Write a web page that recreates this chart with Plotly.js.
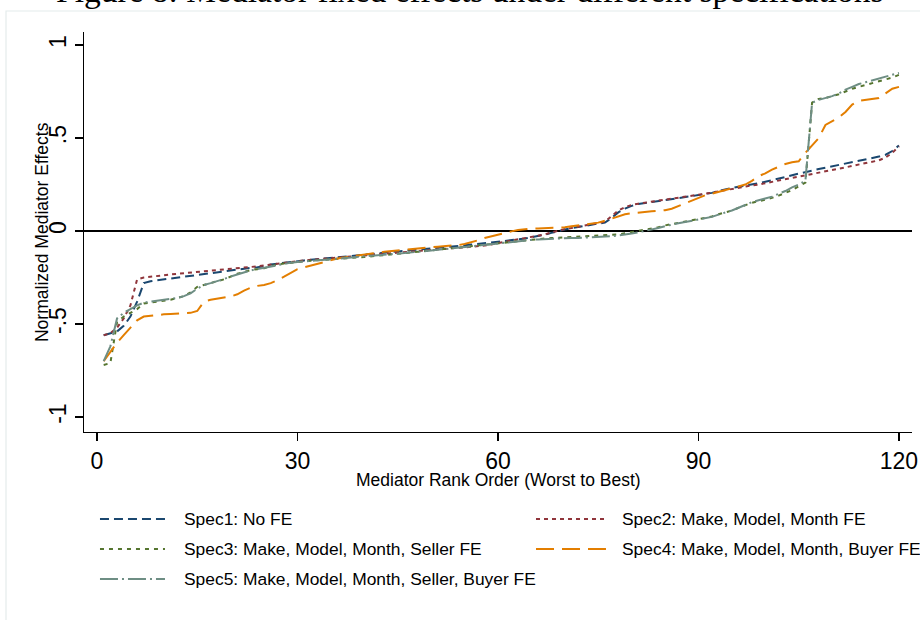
<!DOCTYPE html>
<html>
<head>
<meta charset="utf-8">
<script src="https://cdn.plot.ly/plotly-3.0.1.min.js"></script>
<style>
  html, body { margin: 0; padding: 0; background: #ffffff; }
  #chart { width: 920px; height: 620px; }
</style>
</head>
<body>
<div id="chart"></div>
<script>
// Mediator rank order 1..120 (worst to best)
const ranks = Array.from({length: 120}, (_, i) => i + 1);

// Normalized mediator effects per specification, by rank
const spec1 = [
  -0.56, -0.55, -0.54, -0.51, -0.46, -0.38, -0.28, -0.27, -0.265, -0.26,
  -0.255, -0.25, -0.245, -0.24, -0.235, -0.23, -0.225, -0.22, -0.215, -0.21,
  -0.205, -0.2, -0.198, -0.195, -0.19, -0.18, -0.175, -0.17, -0.168, -0.163,
  -0.158, -0.155, -0.152, -0.148, -0.145, -0.142, -0.138, -0.135, -0.13, -0.127,
  -0.124, -0.12, -0.117, -0.114, -0.11, -0.107, -0.104, -0.1, -0.097, -0.093,
  -0.09, -0.087, -0.083, -0.08, -0.077, -0.073, -0.07, -0.066, -0.062, -0.058,
  -0.054, -0.05, -0.045, -0.04, -0.034, -0.028, -0.02, -0.01, 0.0, 0.008,
  0.015, 0.02, 0.028, 0.034, 0.04, 0.045, 0.07, 0.1, 0.12, 0.135,
  0.145, 0.15, 0.155, 0.16, 0.165, 0.17, 0.175, 0.18, 0.187, 0.193,
  0.2, 0.205, 0.215, 0.225, 0.232, 0.238, 0.243, 0.25, 0.257, 0.265,
  0.272, 0.28, 0.29, 0.3, 0.307, 0.315, 0.325, 0.333, 0.34, 0.35,
  0.358, 0.365, 0.37, 0.378, 0.385, 0.392, 0.4, 0.41, 0.43, 0.46
];
const spec2 = [
  -0.56, -0.55, -0.52, -0.47, -0.40, -0.26, -0.25, -0.245, -0.24, -0.237,
  -0.234, -0.23, -0.227, -0.224, -0.22, -0.217, -0.213, -0.21, -0.206, -0.203,
  -0.2, -0.197, -0.194, -0.19, -0.185, -0.18, -0.175, -0.17, -0.166, -0.162,
  -0.158, -0.155, -0.152, -0.149, -0.146, -0.143, -0.14, -0.137, -0.133, -0.13,
  -0.127, -0.124, -0.12, -0.117, -0.114, -0.111, -0.108, -0.105, -0.102, -0.1,
  -0.097, -0.094, -0.092, -0.09, -0.088, -0.085, -0.082, -0.078, -0.072, -0.065,
  -0.058, -0.052, -0.046, -0.04, -0.034, -0.027, -0.018, -0.008, 0.002, 0.01,
  0.016, 0.022, 0.028, 0.035, 0.042, 0.05, 0.08, 0.11, 0.128, 0.14,
  0.147, 0.152, 0.157, 0.162, 0.167, 0.172, 0.177, 0.182, 0.188, 0.194,
  0.2, 0.206, 0.213, 0.22, 0.228, 0.235, 0.24, 0.245, 0.25, 0.257,
  0.263, 0.27, 0.277, 0.284, 0.29, 0.298, 0.305, 0.313, 0.32, 0.328,
  0.335, 0.342, 0.35, 0.357, 0.365, 0.372, 0.38, 0.395, 0.42, 0.455
];
const spec3 = [
  -0.72, -0.71, -0.49, -0.46, -0.44, -0.42, -0.39, -0.385, -0.38, -0.375,
  -0.37, -0.36, -0.35, -0.33, -0.30, -0.29, -0.28, -0.27, -0.26, -0.245,
  -0.23, -0.22, -0.21, -0.205, -0.2, -0.19, -0.18, -0.175, -0.17, -0.167,
  -0.163, -0.16, -0.157, -0.155, -0.153, -0.15, -0.148, -0.145, -0.142, -0.14,
  -0.137, -0.134, -0.13, -0.127, -0.123, -0.12, -0.116, -0.112, -0.108, -0.104,
  -0.1, -0.097, -0.093, -0.09, -0.086, -0.082, -0.078, -0.074, -0.07, -0.066,
  -0.062, -0.058, -0.054, -0.05, -0.046, -0.043, -0.04, -0.038, -0.036, -0.034,
  -0.032, -0.03, -0.029, -0.028, -0.027, -0.025, -0.022, -0.018, -0.012, -0.006,
  0.0, 0.006, 0.012, 0.02, 0.03, 0.038, 0.045, 0.052, 0.058, 0.064,
  0.07, 0.078, 0.09, 0.1, 0.11, 0.125, 0.14, 0.152, 0.16, 0.168,
  0.178, 0.19, 0.205, 0.22, 0.24, 0.26, 0.69, 0.71, 0.715, 0.725,
  0.735, 0.75, 0.765, 0.775, 0.785, 0.795, 0.805, 0.815, 0.825, 0.84
];
const spec4 = [
  -0.70, -0.65, -0.60, -0.56, -0.52, -0.48, -0.46, -0.455, -0.45, -0.448,
  -0.446, -0.445, -0.444, -0.44, -0.43, -0.38, -0.37, -0.365, -0.36, -0.352,
  -0.34, -0.32, -0.305, -0.295, -0.29, -0.28, -0.265, -0.245, -0.225, -0.205,
  -0.195, -0.185, -0.175, -0.165, -0.155, -0.148, -0.142, -0.136, -0.13, -0.125,
  -0.12, -0.116, -0.112, -0.108, -0.104, -0.1, -0.097, -0.094, -0.09, -0.087,
  -0.084, -0.082, -0.079, -0.076, -0.07, -0.062, -0.05, -0.038, -0.028, -0.018,
  -0.01, -0.002, 0.005, 0.01, 0.013, 0.014, 0.015, 0.016, 0.018, 0.02,
  0.025, 0.03, 0.035, 0.04, 0.045, 0.055, 0.068, 0.08, 0.09, 0.095,
  0.1, 0.103, 0.106, 0.109, 0.112, 0.12, 0.135, 0.15, 0.165, 0.18,
  0.192, 0.2, 0.21, 0.22, 0.23, 0.24, 0.25, 0.27, 0.295, 0.31,
  0.33, 0.345, 0.36, 0.37, 0.375, 0.42, 0.46, 0.5, 0.57, 0.59,
  0.61, 0.64, 0.68, 0.7, 0.705, 0.71, 0.715, 0.74, 0.765, 0.775
];
const spec5 = [
  -0.70, -0.62, -0.47, -0.44, -0.42, -0.40, -0.385, -0.38, -0.375, -0.37,
  -0.365, -0.36, -0.35, -0.335, -0.31, -0.29, -0.28, -0.27, -0.258, -0.245,
  -0.233, -0.22, -0.212, -0.205, -0.198, -0.19, -0.182, -0.176, -0.17, -0.167,
  -0.164, -0.161, -0.158, -0.156, -0.154, -0.152, -0.149, -0.146, -0.143, -0.14,
  -0.137, -0.134, -0.131, -0.128, -0.125, -0.121, -0.117, -0.113, -0.109, -0.105,
  -0.101, -0.098, -0.094, -0.091, -0.088, -0.084, -0.08, -0.076, -0.072, -0.068,
  -0.064, -0.06, -0.056, -0.052, -0.048, -0.045, -0.043, -0.041, -0.04, -0.039,
  -0.038, -0.037, -0.036, -0.035, -0.033, -0.031, -0.028, -0.024, -0.02, -0.014,
  -0.007, 0.0, 0.008, 0.016, 0.026, 0.035, 0.042, 0.048, 0.055, 0.062,
  0.068, 0.076, 0.088, 0.098, 0.11, 0.125, 0.142, 0.155, 0.165, 0.175,
  0.185, 0.2, 0.215, 0.235, 0.25, 0.27, 0.69, 0.705, 0.715, 0.725,
  0.74, 0.76, 0.775, 0.79, 0.8, 0.81, 0.82, 0.83, 0.84, 0.85
];

const seriesNames = [
  "Spec1: No FE",
  "Spec2: Make, Model, Month FE",
  "Spec3: Make, Model, Month, Seller FE",
  "Spec4: Make, Model, Month, Buyer FE",
  "Spec5: Make, Model, Month, Seller, Buyer FE"
];
const seriesValues = [spec1, spec2, spec3, spec4, spec5];

const xTickVals = [0, 30, 60, 90, 120];
const xTickText = ["0", "30", "60", "90", "120"];
const yTickVals = [1, 0.5, 0, -0.5, -1];
const yTickText = ["1", ".5", "0", "-.5", "-1"];

const figureTitle = "Figure 8: Mediator fixed effects under different specifications";
const xTitle = "Mediator Rank Order (Worst to Best)";
const yTitle = "Normalized Mediator Effects";

// Line styles (Stata s2color palette)
const styles = [
  {color: "#1a476f", dash: "9px,5px"},
  {color: "#90353b", dash: "4px,4px"},
  {color: "#55752f", dash: "4px,5px"},
  {color: "#e37e00", dash: "18px,8px"},
  {color: "#6e8e84", dash: "18px,4px,2px,4px"}
];

const FONT = "Liberation Sans, Arial, sans-serif";

const traces = seriesValues.map((vals, i) => ({
  type: "scatter",
  mode: "lines",
  x: ranks,
  y: vals,
  name: seriesNames[i],
  line: {color: styles[i].color, dash: styles[i].dash, width: 2},
  hoverinfo: "skip",
  showlegend: false
}));

// Legend laid out in two columns below the plot
const legendSlots = [
  {x0: 0.0193, x1: 0.0978, tx: 0.1184, y: -0.2175},
  {x0: 0.5459, x1: 0.6304, tx: 0.6473, y: -0.2175},
  {x0: 0.0193, x1: 0.0978, tx: 0.1184, y: -0.2925},
  {x0: 0.5459, x1: 0.6304, tx: 0.6473, y: -0.2925},
  {x0: 0.0193, x1: 0.0978, tx: 0.1184, y: -0.3675}
];

const shapes = [
  // graph region outline
  {type: "rect", xref: "paper", yref: "paper", x0: -0.0942, x1: 1.02, y0: -0.5, y1: 1.0525,
   line: {color: "#e4ecec", width: 1.2}, fillcolor: "rgba(0,0,0,0)", layer: "below"}
];
const annotations = [
  {text: figureTitle,
   xref: "paper", yref: "paper", x: 0.466, y: 1.1025, xanchor: "center", yanchor: "middle",
   showarrow: false, font: {family: "Liberation Serif, Times New Roman, serif", size: 33.5, color: "#000000"}},
  {text: xTitle, xref: "paper", yref: "paper", x: 0.5, y: -0.12,
   xanchor: "center", yanchor: "middle", showarrow: false,
   font: {family: FONT, size: 17.5, color: "#000000"}},
  {text: yTitle, xref: "paper", yref: "paper", x: -0.0507, y: 0.5, textangle: -90,
   xanchor: "center", yanchor: "middle", showarrow: false,
   font: {family: FONT, size: 17.5, color: "#000000"}}
];
legendSlots.forEach((s, i) => {
  shapes.push({type: "line", xref: "paper", yref: "paper", x0: s.x0, x1: s.x1, y0: s.y, y1: s.y,
    line: {color: styles[i].color, dash: styles[i].dash, width: 2}});
  annotations.push({text: seriesNames[i], xref: "paper", yref: "paper", x: s.tx, y: s.y,
    xanchor: "left", yanchor: "middle", showarrow: false,
    font: {family: FONT, size: 17.4, color: "#000000"}});
});

const layout = {
  width: 920,
  height: 620,
  paper_bgcolor: "#ffffff",
  plot_bgcolor: "#ffffff",
  margin: {l: 84, r: 8, t: 32, b: 188, pad: 0},
  showlegend: false,
  font: {family: FONT, color: "#000000"},
  xaxis: {
    range: [-1.945, 121.95],
    tickmode: "array", tickvals: xTickVals, ticktext: xTickText,
    ticks: "outside", ticklen: 8, tickwidth: 1.2, tickcolor: "#000000",
    showline: true, linecolor: "#000000", linewidth: 1.2,
    showgrid: false, zeroline: false,
    tickfont: {family: FONT, size: 23, color: "#000000"},
    automargin: false
  },
  yaxis: {
    range: [-1.0806, 1.0699],
    tickmode: "array", tickvals: yTickVals, ticktext: yTickText,
    tickangle: -90,
    ticks: "outside", ticklen: 8, tickwidth: 1.2, tickcolor: "#000000",
    showline: true, linecolor: "#000000", linewidth: 1.2,
    showgrid: false,
    zeroline: true, zerolinecolor: "#000000", zerolinewidth: 1.6,
    tickfont: {family: FONT, size: 23, color: "#000000"},
    automargin: false
  },
  shapes: shapes,
  annotations: annotations
};

Plotly.newPlot("chart", traces, layout, {displayModeBar: false, staticPlot: true});
</script>
</body>
</html>
